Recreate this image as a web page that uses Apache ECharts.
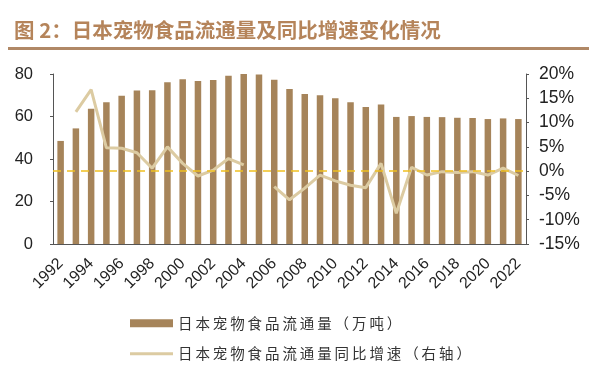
<!DOCTYPE html>
<html><head><meta charset="utf-8">
<script src="https://cdn.jsdelivr.net/npm/echarts@6/dist/echarts.min.js"></script>
<style>html,body{margin:0;padding:0;background:#fff}#c{width:600px;height:375px}</style>
</head><body><div id="c"></div>
<script>
const years = ['1992','1993','1994','1995','1996','1997','1998','1999','2000','2001','2002','2003','2004','2005','2006','2007','2008','2009','2010','2011','2012','2013','2014','2015','2016','2017','2018','2019','2020','2021','2022'];
const volume = [48.5,54.4,63.7,66.7,69.8,72.2,72.3,76.1,77.5,76.7,77.2,79.2,80.0,79.8,77.3,72.9,70.6,70.0,68.6,66.7,64.5,65.7,59.8,60.2,59.8,59.7,59.4,59.3,58.8,59.1,58.8];
const growth = [null,12.2,16.8,4.8,4.7,3.8,0.6,5.0,1.6,-1.0,0.2,2.6,1.3,null,-3.2,-5.9,-3.5,-0.8,-2.0,-2.9,-3.4,1.6,-8.7,0.8,-0.8,-0.1,-0.3,-0.1,-0.8,0.6,-0.9];
const seriesNames = ['日本宠物食品流通量（万吨）','日本宠物食品流通量同比增速（右轴）'];
const titleText = '图 2：日本宠物食品流通量及同比增速变化情况';

const font = '"Liberation Sans", Arial, "Noto Sans CJK SC", sans-serif';
const cjk = '"Noto Sans CJK SC", sans-serif';
const spaced = s => s.split('').join('\u2009');
const chart = echarts.init(document.getElementById('c'));
chart.setOption({
  animation: false,
  textStyle: {fontFamily: font},
  title: {
    text: titleText, left: 9, top: 15,
    textStyle: {fontSize: 20.5, fontWeight: 'bold', color: '#b5845a', fontFamily: cjk}
  },
  graphic: [{type: 'rect', shape: {x: 8, y: 47, width: 581, height: 3}, style: {fill: '#b08866'}}],
  grid: {left: 53, right: 74, top: 74, bottom: 131},
  legend: {
    orient: 'vertical', left: 125, top: 311, itemGap: 16,
    itemWidth: 43, itemHeight: 8,
    formatter: spaced,
    textStyle: {fontSize: 14.5, color: '#333', fontFamily: cjk},
    data: [{name: seriesNames[0], icon: 'rect'}, {name: seriesNames[1], icon: 'path://M0 0H43V3H0Z'}]
  },
  xAxis: {
    type: 'category', data: years,
    axisLine: {lineStyle: {color: '#555'}},
    axisTick: {inside: true, length: 4, lineStyle: {color: '#555'}},
    axisLabel: {interval: 1, rotate: 45, fontSize: 16, color: '#222', margin: 17}
  },
  yAxis: [{
    type: 'value', min: 0, max: 80, interval: 20,
    splitLine: {show: false},
    axisLine: {show: true, lineStyle: {color: '#555'}},
    axisTick: {show: true, length: 3, lineStyle: {color: '#555'}},
    axisLabel: {fontSize: 16.5, color: '#222', margin: 20}
  }, {
    type: 'value', min: -15, max: 20, interval: 5,
    splitLine: {show: false},
    axisLine: {show: true, lineStyle: {color: '#555'}},
    axisTick: {show: true, length: 3, lineStyle: {color: '#555'}},
    axisLabel: {fontSize: 17.5, color: '#222', margin: 13, formatter: '{value}%'}
  }],
  series: [{
    name: seriesNames[0], type: 'bar', data: volume, barWidth: 6.5,
    itemStyle: {color: '#a6845a'}
  }, {
    name: seriesNames[1], type: 'line', yAxisIndex: 1, data: growth,
    connectNulls: false, showSymbol: false, symbol: 'none',
    lineStyle: {color: '#dccba2', width: 3}, itemStyle: {color: '#dccba2'},
    z: 3,
    markLine: {
      silent: true, symbol: 'none', label: {show: false},
      lineStyle: {color: '#f0c020', type: [8, 6], width: 1.5},
      data: [{yAxis: 0}]
    }
  }]
});
</script></body></html>
